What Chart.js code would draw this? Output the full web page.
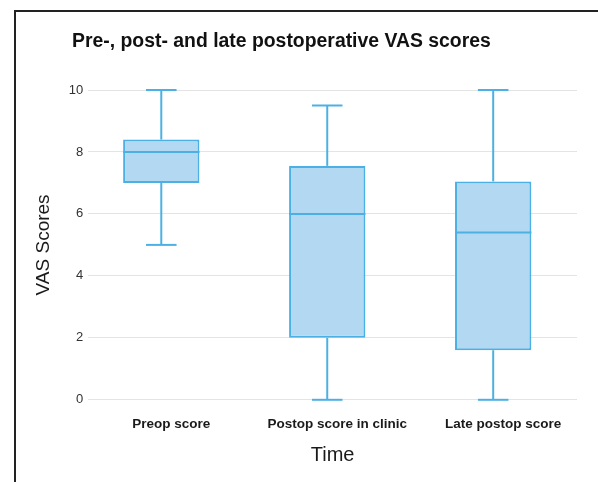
<!DOCTYPE html>
<html>
<head>
<meta charset="utf-8">
<script src="https://cdn.jsdelivr.net/npm/chart.js@4.4.1/dist/chart.umd.min.js"></script>
<style>
  html, body { margin: 0; padding: 0; background: #fff; }
  #wrap { position: relative; width: 598px; height: 482px; overflow: hidden; }
  #frame {
    position: absolute; left: 14px; top: 10px; right: -4px; bottom: -4px;
    border-top: 2px solid #222; border-left: 2px solid #222;
  }
  #title {
    position: absolute; left: 72px; top: 29px;
    font: bold 19.4px/23px "Liberation Sans", Arial, sans-serif;
    color: #111; white-space: nowrap;
  }
  canvas { position: absolute; left: 0; top: 0; }
</style>
</head>
<body>
<div id="wrap">
  <div id="frame"></div>
  <canvas id="chart" width="598" height="482"></canvas>
  <div id="title">Pre-, post- and late postoperative VAS scores</div>
</div>
<script>
// ---- Data ----
const categories = ["Preop score", "Postop score in clinic", "Late postop score"];
const whiskerLow = [5, 0, 0];
const quartile1 = [7, 2, 1.6];
const medians = [8, 6, 5.4];
const quartile3 = [8.4, 7.55, 7.05];
const whiskerHigh = [10, 9.5, 10];
const yTicks = [0, 2, 4, 6, 8, 10];

const BOX_FILL = "#b3d8f1";
const BOX_LINE = "#4db0e4";
const FONT = "'Liberation Sans', Arial, sans-serif";

// whiskers + median, placed with the chart's own scales
const boxExtras = {
  id: "boxExtras",
  afterDatasetsDraw(chart) {
    const { ctx } = chart;
    const y = chart.scales.y;
    const meta = chart.getDatasetMeta(0);
    const line = (x1, y1, x2, y2) => {
      ctx.beginPath();
      ctx.moveTo(x1, y1);
      ctx.lineTo(x2, y2);
      ctx.stroke();
    };
    ctx.save();
    ctx.strokeStyle = BOX_LINE;
    ctx.lineWidth = 2;
    meta.data.forEach((bar, i) => {
      const x = bar.x;
      const half = bar.width / 2;
      const cap = bar.width * 0.2;
      const med = y.getPixelForValue(medians[i]);
      const hi = y.getPixelForValue(whiskerHigh[i]);
      const lo = y.getPixelForValue(whiskerLow[i]);
      line(x - half, med, x + half, med);
      line(x, y.getPixelForValue(quartile3[i]), x, hi);
      line(x - cap, hi, x + cap, hi);
      line(x, y.getPixelForValue(quartile1[i]), x, lo);
      line(x - cap, lo, x + cap, lo);
    });
    ctx.restore();
  },
};

new Chart(document.getElementById("chart"), {
  type: "bar",
  data: {
    datasets: [
      {
        label: "VAS",
        data: categories.map((_, i) => ({ x: i, y: [quartile1[i], quartile3[i]] })),
        backgroundColor: BOX_FILL,
        borderColor: BOX_LINE,
        borderWidth: 2,
        borderSkipped: false,
        barPercentage: 0.46,
        categoryPercentage: 1,
      },
    ],
  },
  options: {
    responsive: false,
    animation: false,
    devicePixelRatio: 1,
    layout: { padding: { left: 30, right: 21, top: 90, bottom: 15 } },
    plugins: {
      legend: { display: false },
      tooltip: { enabled: false },
      title: { display: false },
    },
    scales: {
      x: {
        type: "linear",
        offset: false,
        min: -0.44,
        max: 2.505,
        afterBuildTicks: (axis) => {
          axis.ticks = categories.map((_, i) => ({ value: i }));
        },
        grid: { display: false, drawTicks: false },
        border: { display: false },
        ticks: {
          autoSkip: false,
          maxRotation: 0,
          minRotation: 0,
          labelOffset: 10,
          color: "#1a1a1a",
          padding: 16,
          font: { family: FONT, size: 13.5, weight: "bold" },
          callback: (v) => categories[v],
        },
        title: {
          display: true,
          text: "Time",
          color: "#1a1a1a",
          font: { family: FONT, size: 20 },
          padding: { top: -5, bottom: 0 },
        },
      },
      y: {
        min: 0,
        max: 10,
        afterBuildTicks: (axis) => {
          axis.ticks = yTicks.map((v) => ({ value: v }));
        },
        grid: { color: "#e4e4e4", drawTicks: false },
        border: { display: false },
        ticks: {
          color: "#333",
          padding: 5,
          font: { family: FONT, size: 13 },
        },
        title: {
          display: true,
          text: "VAS Scores",
          color: "#1a1a1a",
          font: { family: FONT, size: 19 },
          padding: { top: 2, bottom: 9 },
        },
      },
    },
  },
  plugins: [boxExtras],
});
</script>
</body>
</html>
